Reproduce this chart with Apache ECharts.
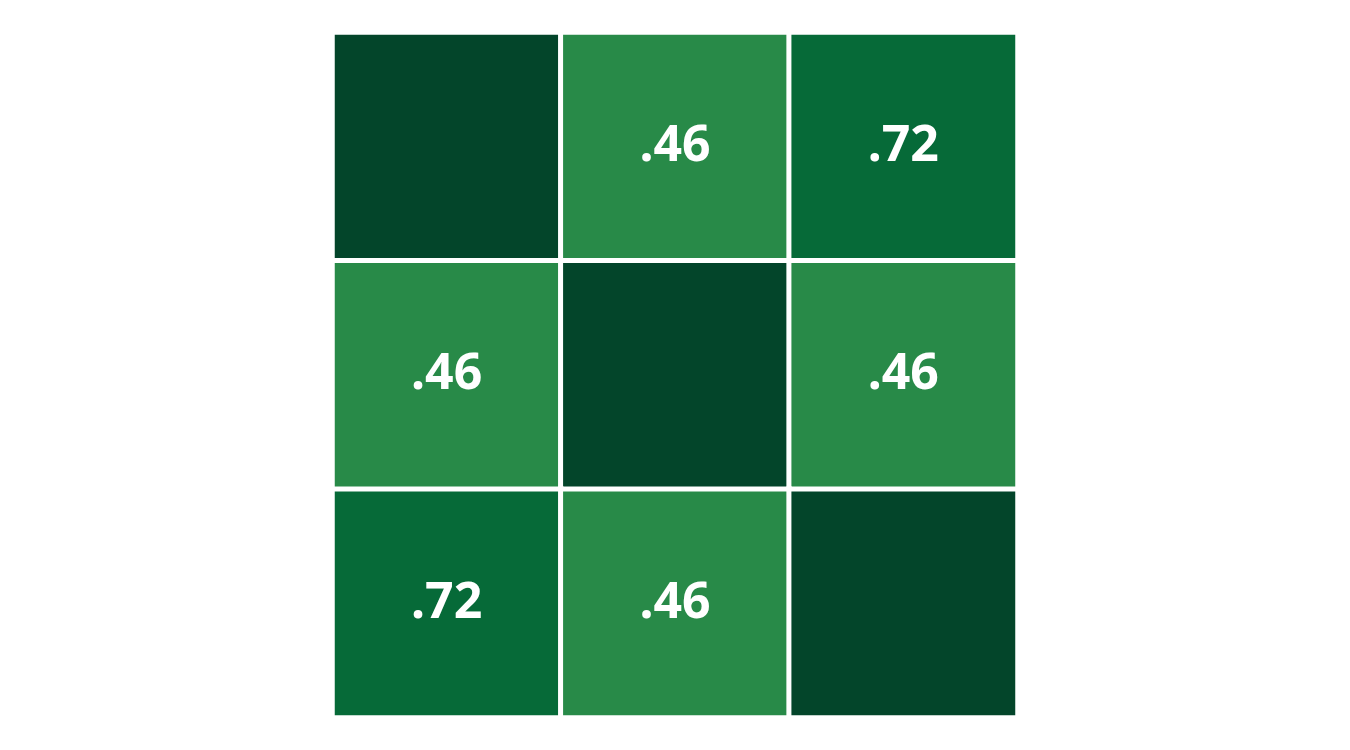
<!DOCTYPE html>
<html>
<head>
<meta charset="utf-8">
<script src="https://cdn.jsdelivr.net/npm/echarts@6/dist/echarts.min.js"></script>
<style>html,body{margin:0;padding:0;background:#fff}#c{width:1350px;height:750px}</style>
</head>
<body>
<div id="c"></div>
<script>
const rowsLabels = ['A', 'B', 'C'];
const colLabels = ['A', 'B', 'C'];
const matrix = [
  [1.00, 0.46, 0.72],
  [0.46, 1.00, 0.46],
  [0.72, 0.46, 1.00]
];
const data = [];
matrix.forEach((row, r) => row.forEach((v, c) => data.push([c, r, v])));

const chart = echarts.init(document.getElementById('c'));
chart.setOption({
  animation: false,
  grid: { left: 332.5, top: 32.5, width: 685, height: 685 },
  xAxis: { type: 'category', data: colLabels, show: false },
  yAxis: { type: 'category', data: rowsLabels, inverse: true, show: false },
  visualMap: {
    show: false,
    type: 'piecewise',
    dimension: 2,
    pieces: [
      { min: 0.9, color: '#03452a' },
      { min: 0.6, max: 0.9, color: '#066a38' },
      { max: 0.6, color: '#288a48' }
    ]
  },
  series: [{
    type: 'heatmap',
    data: data,
    itemStyle: { borderColor: '#ffffff', borderWidth: 5 },
    label: {
      show: true,
      color: '#ffffff',
      fontFamily: 'Noto Sans',
      fontWeight: 'bold',
      fontSize: 50,
      formatter: p => p.value[2] >= 1 ? '' : p.value[2].toFixed(2).replace(/^0/, '')
    },
    emphasis: { disabled: true }
  }]
});
</script>
</body>
</html>
